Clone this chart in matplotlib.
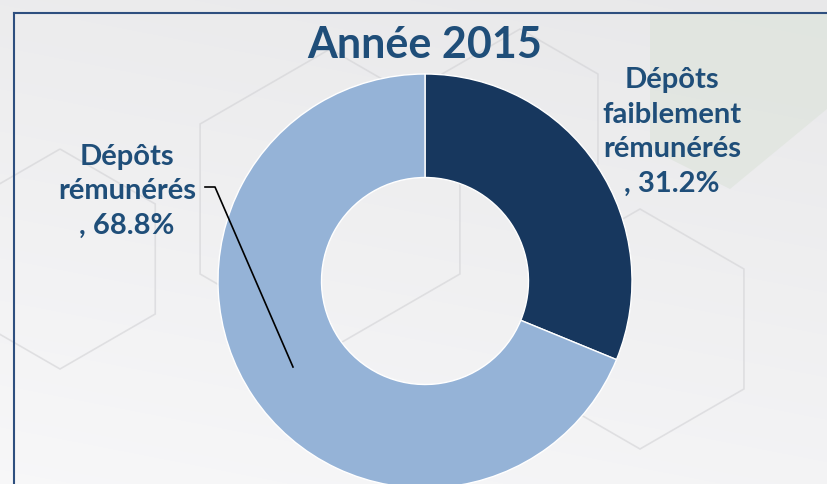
import matplotlib
matplotlib.use("Agg")
import matplotlib.pyplot as plt
import matplotlib.patches as mpatches
import numpy as np

# Chart data
categories = ["Dépôts\nfaiblement\nrémunérés", "Dépôts\nrémunérés"]
shares = [31.2, 68.8]
colors = ["#17375E", "#95B3D7"]
title = "Année 2015"

W, H = 827, 485
TEXT_BLUE = "#1F4E79"

fig = plt.figure(figsize=(W / 100, H / 100), dpi=100)
ax = fig.add_axes([0, 0, 1, 1])

# soft background: grey gradient, lighter towards the bottom
yy, xx = np.mgrid[0:H, 0:W]
bg = np.clip(0.925 + 0.045 * (yy / H) - 0.015 * (xx / W), 0, 1)
ax.imshow(np.dstack([bg, bg, bg + 0.005]), extent=[0, W, 0, H], origin="upper", zorder=0)
# faint green-grey block top right
ax.add_patch(mpatches.Polygon([(650, H - 15), (827, H - 15), (827, H - 110), (730, H - 190), (650, H - 150)],
                              closed=True, facecolor="#DCE3DA", edgecolor="none", alpha=0.6, zorder=0.5))
# faint hexagon outlines
for hx, hy, hr in [(330, 200, 150), (640, 330, 120), (60, 260, 110), (520, 120, 90)]:
    ax.add_patch(mpatches.RegularPolygon((hx, H - hy), 6, radius=hr, orientation=0,
                                         facecolor="none", edgecolor="#D2D2D5", lw=1.2,
                                         alpha=0.6, zorder=0.6))

# frame lines
ax.plot([14, W], [H - 14, H - 14], color="#2E4F7F", lw=1.5, zorder=1)
ax.plot([14, 14], [H - 14, 0], color="#2E4F7F", lw=1.5, zorder=1)

# donut
cx, cy, r = 425, H - 282, 207
wedges, _ = ax.pie(shares, colors=colors, startangle=90, counterclock=False,
                   center=(cx, cy), radius=r, frame=True,
                   wedgeprops=dict(width=r * 0.5, edgecolor="white", linewidth=1))
for w in wedges:
    w.set_zorder(2)
ax.set_xlim(0, W)
ax.set_ylim(0, H)
ax.set_aspect("equal")
ax.axis("off")

font = dict(family="Lato", weight="bold", color=TEXT_BLUE)
ax.text(cx, H - 45, title, ha="center", va="center", fontsize=31, zorder=3, **font)

labels = [f"{c}\n, {v}%" for c, v in zip(categories, shares)]
ax.text(672, H - 132, labels[0], ha="center", va="center", fontsize=21,
        linespacing=1.4, zorder=3, **font)
ax.text(127, H - 191, labels[1], ha="center", va="center", fontsize=21,
        linespacing=1.4, zorder=3, **font)

# leader line for the left label
ax.plot([205, 215, 293], [H - 188, H - 188, H - 368], color="black", lw=1.2, zorder=3)

fig.savefig("out.png", dpi=100)
